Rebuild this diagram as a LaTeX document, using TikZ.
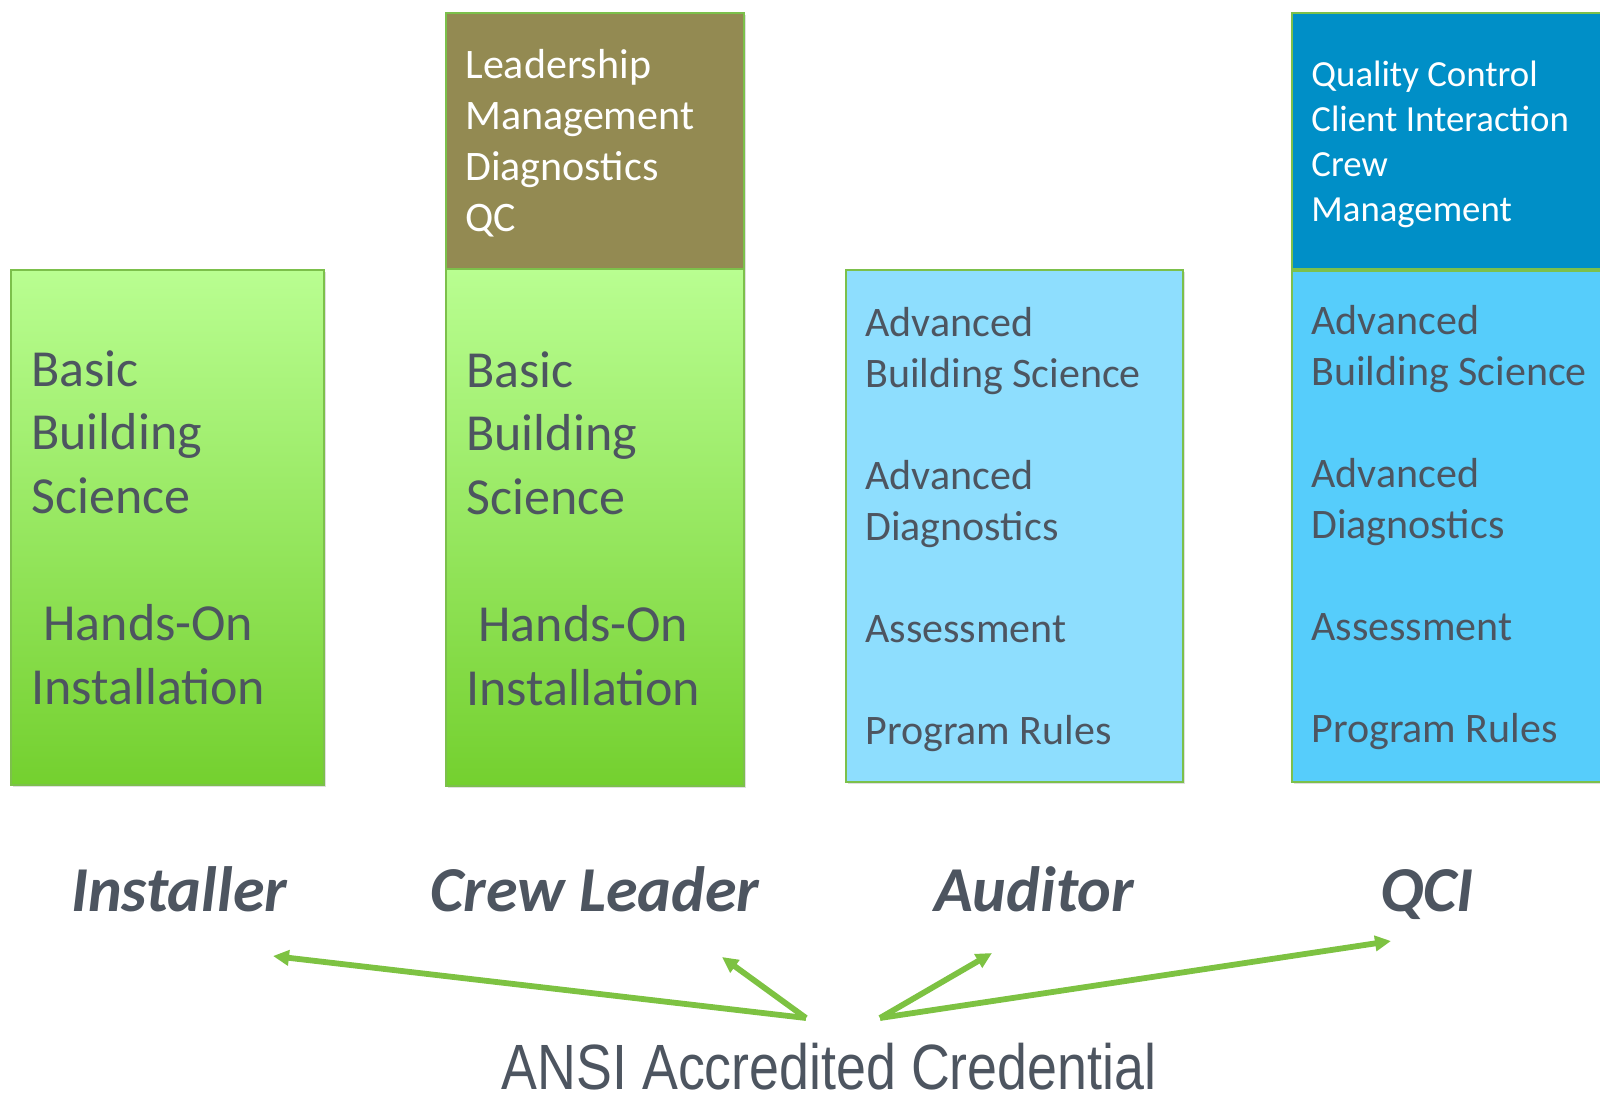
\documentclass[tikz,border=0pt]{standalone}
\usepackage{fontspec}
\setmainfont{Carlito}
\newfontfamily\narrowfont{Liberation Sans}
\usepackage{tikz}
\usetikzlibrary{arrows.meta, shadows}

\definecolor{textgray}{HTML}{4D5560}
\definecolor{edgegreen}{HTML}{7CC04B}
\definecolor{arrowgreen}{HTML}{7DC242}
\definecolor{greentop}{HTML}{B9FE91}
\definecolor{greenmid}{HTML}{A0E674}
\definecolor{greenbot}{HTML}{74D02F}
\definecolor{paleblue}{HTML}{8EDEFE}
\definecolor{skyblue}{HTML}{56CDFB}
\definecolor{deepblue}{HTML}{008FC7}
\definecolor{olive}{HTML}{938A52}

\begin{document}
\begin{tikzpicture}[x=0.5pt, y=-0.5pt,
    box/.style={draw=edgegreen, line width=0.8pt, anchor=north west, inner sep=0pt,
        drop shadow={opacity=0.25, shadow xshift=1.2pt, shadow yshift=-1.2pt}},
    greenbox/.style={box, top color=greentop, middle color=greenmid, bottom color=greenbot},
    boxtext/.style={anchor=base west, inner sep=0pt, align=left, text=textgray},
    role/.style={anchor=base, inner sep=0pt, text=textgray,
        font=\fontsize{32}{38}\selectfont\bfseries\itshape},
    link/.style={arrowgreen, line width=2.9pt, -{Triangle[length=8pt, width=7.5pt]}}]
    \useasboundingbox (0,0) rectangle (1600,1092);

    % columns
    \node[greenbox, minimum width=156.5pt, minimum height=257.5pt] (inst) at (10,269) {};
    \node[box, fill=olive, minimum width=149pt, minimum height=128pt] (leadtop) at (445,12) {};
    \node[greenbox, minimum width=149pt, minimum height=258.5pt] (lead) at (445,268) {};
    \node[box, fill=paleblue, minimum width=168.5pt, minimum height=256pt] (aud) at (845,269) {};
    \node[box, fill=deepblue, minimum width=159.5pt, minimum height=128pt] (qcitop) at (1291,12) {};
    \node[box, fill=skyblue, minimum width=159.5pt, minimum height=255.5pt] (qci) at (1291,270) {};

    % column texts (anchored on the last line)
    \node[boxtext, font=\fontsize{26}{31.8}\selectfont] (insttxt) at (31,704)
        {Basic\\Building\\Science\\[31.8pt]\hspace*{6pt}Hands-On\\Installation};
    \node[boxtext, font=\fontsize{26}{31.8}\selectfont] (leadtxt) at (466,705)
        {Basic\\Building\\Science\\[31.8pt]\hspace*{6pt}Hands-On\\Installation};
    \node[boxtext, text=white, font=\fontsize{21}{25.5}\selectfont] (leadtoptxt) at (465,231)
        {Leadership\\Management\\Diagnostics\\QC};
    \node[boxtext, font=\fontsize{21}{25.5}\selectfont] (audtxt) at (865,744)
        {Advanced\\Building Science\\[25.5pt]Advanced\\Diagnostics\\[25.5pt]Assessment\\[25.5pt]Program Rules};
    \node[boxtext, font=\fontsize{21}{25.5}\selectfont] (qcitxt) at (1311,742)
        {Advanced\\Building Science\\[25.5pt]Advanced\\Diagnostics\\[25.5pt]Assessment\\[25.5pt]Program Rules};
    \node[boxtext, text=white, font=\fontsize{18.4}{22.5}\selectfont] (qcitoptxt) at (1311,221)
        {Quality Control\\Client Interaction\\Crew\\Management};

    % role names
    \node[role] (installer) at (179,911) {Installer};
    \node[role] (crewleader) at (595,911) {Crew Leader};
    \node[role] (auditor) at (1034,911) {Auditor};
    \node[role] (qcilbl) at (1427,911) {QCI};

    \node[anchor=base, inner sep=0pt, text=textgray, xscale=0.84,
        font=\narrowfont\fontsize{32}{38}\selectfont] (ansi) at (829,1089) {ANSI Accredited Credential};

    % arrows
    \coordinate (srcl) at (806,1018);
    \coordinate (srcr) at (880,1018);
    \coordinate (toinst) at (273,956);
    \coordinate (tolead) at (722,957);
    \coordinate (toaud) at (992,953);
    \coordinate (toqci) at (1391,941);
    \draw[link] (srcl) -- (toinst);
    \draw[link] (srcl) -- (tolead);
    \draw[link] (srcr) -- (toaud);
    \draw[link] (srcr) -- (toqci);
\end{tikzpicture}
\end{document}
